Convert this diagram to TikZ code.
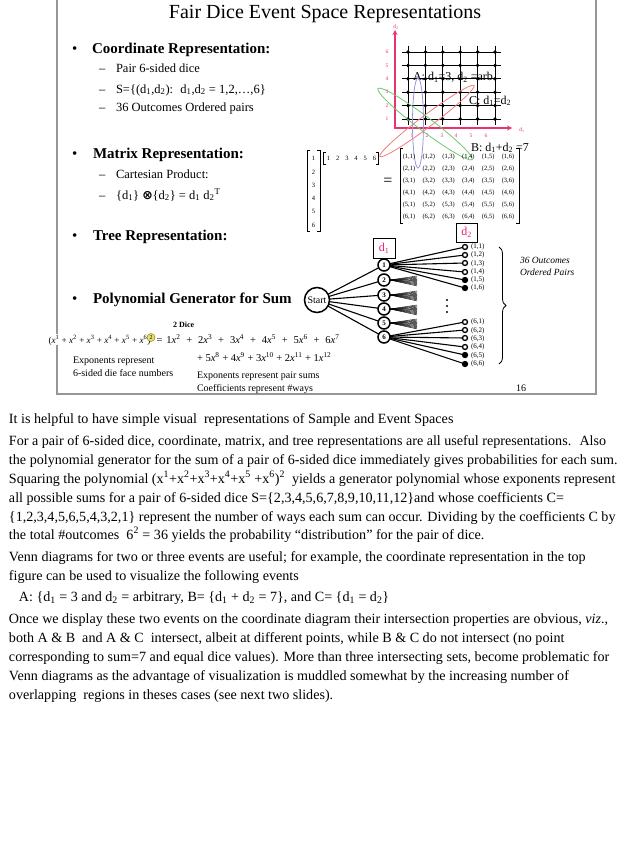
\documentclass[tikz,border=0pt]{standalone}
\usepackage{fontspec}
\setmainfont{Liberation Serif}
\newfontfamily\symfont{DejaVu Sans}
\usetikzlibrary{decorations.pathreplacing,arrows.meta}
\definecolor{axpink}{RGB}{235,50,110}
\definecolor{dpink}{RGB}{225,30,120}
\definecolor{ellblue}{RGB}{150,150,225}
\definecolor{ellred}{RGB}{240,125,125}
\definecolor{ellgreen}{RGB}{110,200,110}
\definecolor{framegray}{RGB}{150,150,150}
\definecolor{hiyellow}{RGB}{235,225,120}
\newcommand{\dd}[1]{d\textsubscript{#1}}
\newcommand{\xp}[1]{\textit{x}\textsuperscript{#1}}
\newcommand{\fs}[1]{\fontsize{#1}{#1}\selectfont}
\newcommand{\wpl}{\hspace{5.9pt}+\hspace{5.9pt}}
\begin{document}
\begin{tikzpicture}[x=1pt,y=-1pt,
  every node/.style={inner sep=0pt, outer sep=0pt},
  bodyline/.style={anchor=base west, font=\fs{14.1}},
  bul/.style={anchor=base west, font=\fs{15}},
  head/.style={anchor=base west, font=\fs{15}\bfseries},
  dashitem/.style={anchor=base west, font=\fs{12.5}},
  subitem/.style={anchor=base west, font=\fs{12.5}},
  smalltext/.style={font=\fs{6.5}},
  axlab/.style={font=\fs{5.5}, text=axpink},
  gridline/.style={line width=0.9pt},
  d1node/.style={circle, draw, line width=1.5pt, fill=white, minimum size=12pt, font=\fs{7}\bfseries},
  leafopen/.style={circle, draw, line width=1.3pt, fill=white, minimum size=5pt},
  leaffill/.style={circle, draw, line width=1.3pt, fill=black, minimum size=5pt},
  connector/.style={line width=1.1pt},
  fanline/.style={line width=0.45pt},
  leaflab/.style={anchor=west, font=\fs{7}},
  bracket/.style={line width=0.6pt},
  polytext/.style={anchor=base west, font=\fs{9.2}},
  polybig/.style={anchor=base west, font=\fs{10.5}},
  notetext/.style={anchor=base west, font=\fs{10}},
  gridlabel/.style={anchor=base west, font=\fs{12}},
  ell/.style={line width=0.8pt},
  dbox/.style={draw, line width=1pt, text=dpink, font=\fs{12}},
]
\useasboundingbox (0,0) rectangle (638,851);
\fill[white] (0,0) rectangle (638,851);

% slide frame
\draw[framegray, line width=1.3pt] (57,-3) rectangle (596,394);

% title
\node[anchor=base, font=\fs{20}] (title) at (325,18.5) {Fair Dice Event Space Representations};

% bullets
\node[bul] (b1) at (72,53) {•};
\node[head] (h1) at (92,53) {Coordinate Representation:};
\node[dashitem] (s1d) at (99,73) {–};
\node[subitem] (s1) at (116,73) {Pair 6-sided dice};
\node[dashitem] (s2d) at (99,93) {–};
\node[subitem] (s2) at (116,93) {S=\{(\dd1,\dd2):~ \dd1,\dd2 = 1,2,…,6\}};
\node[dashitem] (s3d) at (99,111) {–};
\node[subitem] (s3) at (116,111) {36 Outcomes Ordered pairs};

\node[bul] (b2) at (72,158) {•};
\node[head] (h2) at (93,158) {Matrix Representation:};
\node[dashitem] (s4d) at (99,178) {–};
\node[subitem] (s4) at (116,178) {Cartesian Product:};
\node[dashitem] (s5d) at (99,199) {–};
\node[subitem] (s5) at (116,199) {\{\dd1\} {\symfont\bfseries ⊗}\{\dd2\} = \dd1 d\textsubscript{2}\textsuperscript{T}};

\node[bul] (b3) at (72,240) {•};
\node[head] (h3) at (93,240) {Tree Representation:};

\node[bul] (b4) at (72,303) {•};
\node[head] (h4) at (93,303) {Polynomial Generator for Sum};

% polynomial
\node[anchor=base west, font=\fs{8}\bfseries] (dice) at (173,327) {2 Dice};
\node[polytext, fill=white, inner sep=0.5pt] (polyL) at (48,343) {(\xp1 + \xp2 + \xp3 + \xp4 + \xp5 + \xp6)};
\node[circle, fill=hiyellow, draw=olive, line width=0.5pt, minimum size=8pt, font=\fs{6}] (sq) at (151,337.5) {2};
\node[polybig] (polyR) at (156.5,343) {=\hspace{4pt}1\xp2\wpl2\xp3\wpl3\xp4\wpl4\xp5\wpl5\xp6\wpl6\xp7};
\node[polybig] (polyR2) at (197,361) {+ 5\xp8 + 4\xp9 + 3\xp{10} + 2\xp{11} + 1\xp{12}};
\node[notetext] (n1) at (73,363) {Exponents represent};
\node[notetext] (n2) at (73,376) {6-sided die face numbers};
\node[notetext] (n3) at (197,378) {Exponents represent pair sums};
\node[notetext] (n4) at (197,391) {Coefficients represent \#ways};
\node[anchor=base, font=\fs{10}] (pg) at (521,391) {16};

% coordinate diagram
\coordinate (O) at (395,128);
\coordinate (yend) at (395,30);
\coordinate (xend) at (512,128);
\draw[axpink, line width=1.8pt, {Stealth[length=5pt,width=5pt]}-{Stealth[length=5pt,width=5pt]}] (yend) -- (O) -- (xend);
\node[axlab] (ylab) at (396,27) {d\textsubscript{2}};
\node[axlab] (xlab) at (522,130) {d\textsubscript{1}};
\foreach \r in {1,...,6} {
  \draw[gridline] (402,{119-(\r-1)*13.4}) -- (501,{119-(\r-1)*13.4});
  \draw[gridline] ({408+(\r-1)*17.4},46) -- ({408+(\r-1)*17.4},125);
  \node[axlab] (yl\r) at (387,{119-(\r-1)*13.4}) {\r};
}
\foreach \c/\x in {1/412,2/427,3/442,4/456,5/471,6/486}
  \node[axlab] (xl\c) at (\x,136) {\c};
\foreach \r in {1,...,6}
  \foreach \c in {1,...,6}
    \fill ({408+(\c-1)*17.4},{119-(\r-1)*13.4}) circle (1.9);

\node[gridlabel] (Alab) at (413,81) {A: \dd1=3, \dd2 =arb.};
\node[gridlabel] (Clab) at (469,104) {C: \dd1=\dd2};
\node[anchor=base west, font=\fs{12}] (Blab) at (471,151) {B: \dd1+\dd2 =7};

% ellipses
\draw[ell, ellblue] (418,123) ellipse (5.5 and 45);
\draw[ell, ellred, rotate around={37:(427,121)}] (427,121) ellipse (59 and 6);
\draw[ell, ellgreen, rotate around={-37:(425,124)}] (425,124) ellipse (59 and 7);

% matrix representation
\draw[bracket] (310,150) -- (307,150) -- (307,231) -- (310,231);
\draw[bracket] (317,150) -- (320,150) -- (320,231) -- (317,231);
\foreach \i/\y in {1/158,2/172,3/185,4/198,5/211,6/225}
  \node[smalltext] (cv\i) at (313.5,\y) {\i};
\draw[bracket] (326,152) -- (323,152) -- (323,164) -- (326,164);
\draw[bracket] (375.5,152) -- (378.5,152) -- (378.5,164) -- (375.5,164);
\foreach \i in {1,...,6}
  \node[smalltext] (rv\i) at ({328.5+(\i-1)*9.2},158) {\i};
\node[font=\fs{16}] (eq) at (388,182) {=};
\draw[bracket] (403,148) -- (400,148) -- (400,223) -- (403,223);
\draw[bracket] (516,148) -- (519,148) -- (519,223) -- (516,223);
\foreach \r in {1,...,6}
  \foreach \c in {1,...,6}
    \node[smalltext] (m\r\c) at ({409+(\c-1)*19.8},{157+(\r-1)*12}) {(\r,\c)};

% tree
\node[draw, circle, line width=1.5pt, minimum size=25pt, fill=white, font=\fs{10}] (start) at (317,300) {Start};
\node[dbox, minimum width=22pt, minimum height=20pt] (d1box) at (384,248) {d\textsubscript{1}};
\node[dbox, minimum width=21pt, minimum height=19pt] (d2box) at (466.5,232.5) {d\textsubscript{2}};
\foreach \i/\y in {1/265,2/280,3/295,4/309,5/323,6/337}
  \node[d1node] (c\i) at (384,\y) {\i};
\foreach \i in {1,...,6}
  \draw[connector] (start) -- (c\i);
% leaves
\foreach \j/\y in {1/247,2/255,3/263,4/272}
  \node[leafopen] (la\j) at (465,\y) {};
\foreach \j/\y in {5/280,6/288}
  \node[leaffill] (la\j) at (465,\y) {};
\foreach \j/\y in {1/322,2/330,3/338,4/347}
  \node[leafopen] (lf\j) at (465,\y) {};
\foreach \j/\y in {5/355,6/364}
  \node[leaffill] (lf\j) at (465,\y) {};
\foreach \j in {1,...,6} {
  \draw[connector] (c1) -- (la\j);
  \draw[connector] (c6) -- (lf\j);
  \node[leaflab] (tla\j) at (471,{247+(\j-1)*8.2}) {(1,\j)};
  \node[leaflab] (tlf\j) at (471,{322+(\j-1)*8.4}) {(6,\j)};
}
% fans
\foreach \i/\y in {2/280,3/295,4/309,5/323} {
  \foreach \k in {0,...,9} {
    \coordinate (f\i-\k) at (417,{\y-4+\k*1.1});
    \draw[fanline] (c\i.east) -- (f\i-\k);
  }
}
\foreach \y in {300,306,312}
  \fill (447,\y) circle (1.1);
\coordinate (brtop) at (499,247);
\coordinate (brbot) at (499,364);
\draw[decorate, decoration={brace, amplitude=7pt}, line width=0.8pt] (brtop) -- (brbot);
\node[anchor=base west, font=\fs{9.5}\itshape] (oc1) at (520,263) {36 Outcomes};
\node[anchor=base west, font=\fs{9.5}\itshape] (oc2) at (520,275) {Ordered Pairs};

% body text
\node[bodyline] (t1) at (9,423) {It is helpful to have simple visual~ representations of Sample and Event Spaces};
\node[bodyline] (t2) at (9,445) {For a pair of 6-sided dice, coordinate, matrix, and tree representations are all useful representations.~ Also};
\node[bodyline] (t3) at (9,464) {the polynomial generator for the sum of a pair of 6-sided dice immediately gives probabilities for each sum.};
\node[bodyline] (t4) at (9,483) {Squaring the polynomial (x\textsuperscript{1}+x\textsuperscript{2}+x\textsuperscript{3}+x\textsuperscript{4}+x\textsuperscript{5} +x\textsuperscript{6})\textsuperscript{2}~ yields a generator polynomial whose exponents represent};
\node[bodyline] (t5) at (9,502) {all possible sums for a pair of 6-sided dice S=\{2,3,4,5,6,7,8,9,10,11,12\}and whose coefficients C=};
\node[bodyline] (t6) at (9,521) {\{1,2,3,4,5,6,5,4,3,2,1\} represent the number of ways each sum can occur. Dividing by the coefficients C by};
\node[bodyline] (t7) at (9,539) {the total \#outcomes~ 6\textsuperscript{2} = 36 yields the probability “distribution” for the pair of dice.};
\node[bodyline] (t8) at (9,561) {Venn diagrams for two or three events are useful; for example, the coordinate representation in the top};
\node[bodyline] (t9) at (9,580) {figure can be used to visualize the following events};
\node[bodyline] (t10) at (19,601) {A: \{\dd1 = 3 and \dd2 = arbitrary, B= \{\dd1 + \dd2 = 7\}, and C= \{\dd1 = \dd2\}};
\node[bodyline] (t11) at (9,623) {Once we display these two events on the coordinate diagram their intersection properties are obvious, \textit{viz}.,};
\node[bodyline] (t12) at (9,642) {both A \& B~ and A \& C~ intersect, albeit at different points, while B \& C do not intersect (no point};
\node[bodyline] (t13) at (9,661) {corresponding to sum=7 and equal dice values). More than three intersecting sets, become problematic for};
\node[bodyline] (t14) at (9,680) {Venn diagrams as the advantage of visualization is muddled somewhat by the increasing number of};
\node[bodyline] (t15) at (9,699) {overlapping~ regions in theses cases (see next two slides).};
\end{tikzpicture}
\end{document}
